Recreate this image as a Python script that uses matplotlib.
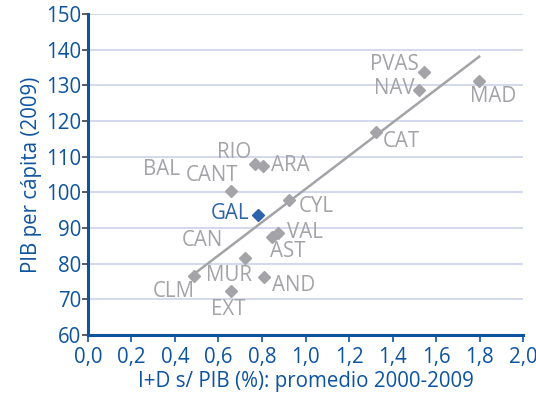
import numpy as np
import matplotlib.pyplot as plt

# I+D sobre PIB (%) promedio 2000-2009 y PIB per capita (2009)
regiones = ['PVAS', 'NAV', 'MAD', 'CAT', 'RIO', 'ARA', 'CANT', 'CYL', 'GAL',
            'VAL', 'AST', 'MUR', 'AND', 'CLM', 'EXT']
idi = [1.546, 1.522, 1.795, 1.323, 0.768, 0.803, 0.659, 0.926, 0.780,
       0.875, 0.848, 0.720, 0.809, 0.486, 0.659]
pib = [133.8, 128.7, 131.2, 117.0, 108.0, 107.4, 100.4, 97.9, 93.7,
       88.7, 87.4, 81.6, 76.2, 76.6, 72.3]

# etiquetas sin marcador visible
solo_etiqueta = ['BAL', 'CAN']
etiqueta_x = [0.339, 0.527]
etiqueta_y = [106.5, 86.6]

# recta de tendencia
tend_x = [0.486, 1.798]
tend_y = [77.0, 138.0]

# desplazamiento de cada etiqueta (puntos) y alineacion
offs = {
    'PVAS': (-4, 5, 'right'), 'NAV': (-3, 1, 'right'), 'MAD': (-6, -11, 'left'),
    'CAT': (5, -7, 'left'), 'RIO': (-3, 8, 'right'), 'ARA': (6, 0, 'left'),
    'CANT': (5, 11, 'right'), 'CYL': (7, -5, 'left'), 'GAL': (-6, 1, 'right'),
    'VAL': (6, 0, 'left'), 'AST': (-2, -10, 'left'), 'MUR': (-11, -13, 'center'),
    'AND': (6, -6, 'left'), 'CLM': (1, -11, 'right'), 'EXT': (-2, -13, 'center'),
}

azul = '#0d54a0'
gris = '#a3a3a8'
azul_gal = '#2c63ab'
fs = 14.8

plt.rcParams['font.family'] = ['Open Sans', 'DejaVu Sans']

fig = plt.figure(figsize=(5.36, 4.07), dpi=100)
ax = fig.add_axes([0.164, 0.177, 0.812, 0.789])

for yv in np.arange(70, 151, 10):
    ax.axhline(yv, color='#cdd2ea', lw=1.2, zorder=0)

ax.plot(tend_x, tend_y, color=gris, lw=1.8, zorder=2)

for r, x, y in zip(regiones, idi, pib):
    c = azul_gal if r == 'GAL' else gris
    ax.plot(x, y, marker='D', ms=6.5, color=c, mec=c, ls='none', zorder=3)
    dx, dy, ha = offs[r]
    ax.annotate(r, (x, y), xytext=(dx, dy), textcoords='offset points',
                ha=ha, va='center', fontsize=fs, color=c, zorder=4)

for r, x, y in zip(solo_etiqueta, etiqueta_x, etiqueta_y):
    ax.text(x, y, r, ha='center', va='center', fontsize=fs, color=gris)

ax.set_xlim(0, 2.0)
ax.set_ylim(60, 150)
ax.set_xticks(np.arange(0, 2.01, 0.2))
ax.set_xticklabels([('%.1f' % v).replace('.', ',') for v in np.arange(0, 2.01, 0.2)])
ax.set_yticks(np.arange(60, 151, 10))

for s in ['top', 'right']:
    ax.spines[s].set_visible(False)
for s in ['left', 'bottom']:
    ax.spines[s].set_color(azul)
    ax.spines[s].set_linewidth(2.2)

ax.tick_params(axis='x', colors=azul, length=5, width=1.2, labelsize=fs, pad=4)
ax.tick_params(axis='y', color='#404040', labelcolor=azul, length=4, width=1.2, labelsize=fs, pad=1)

ax.set_xlabel('I+D s/ PIB (%): promedio 2000-2009', color=azul, fontsize=fs, labelpad=2)
ax.set_ylabel('PIB per cápita (2009)', color=azul, fontsize=fs, labelpad=3)

fig.savefig('out.png', dpi=100)
